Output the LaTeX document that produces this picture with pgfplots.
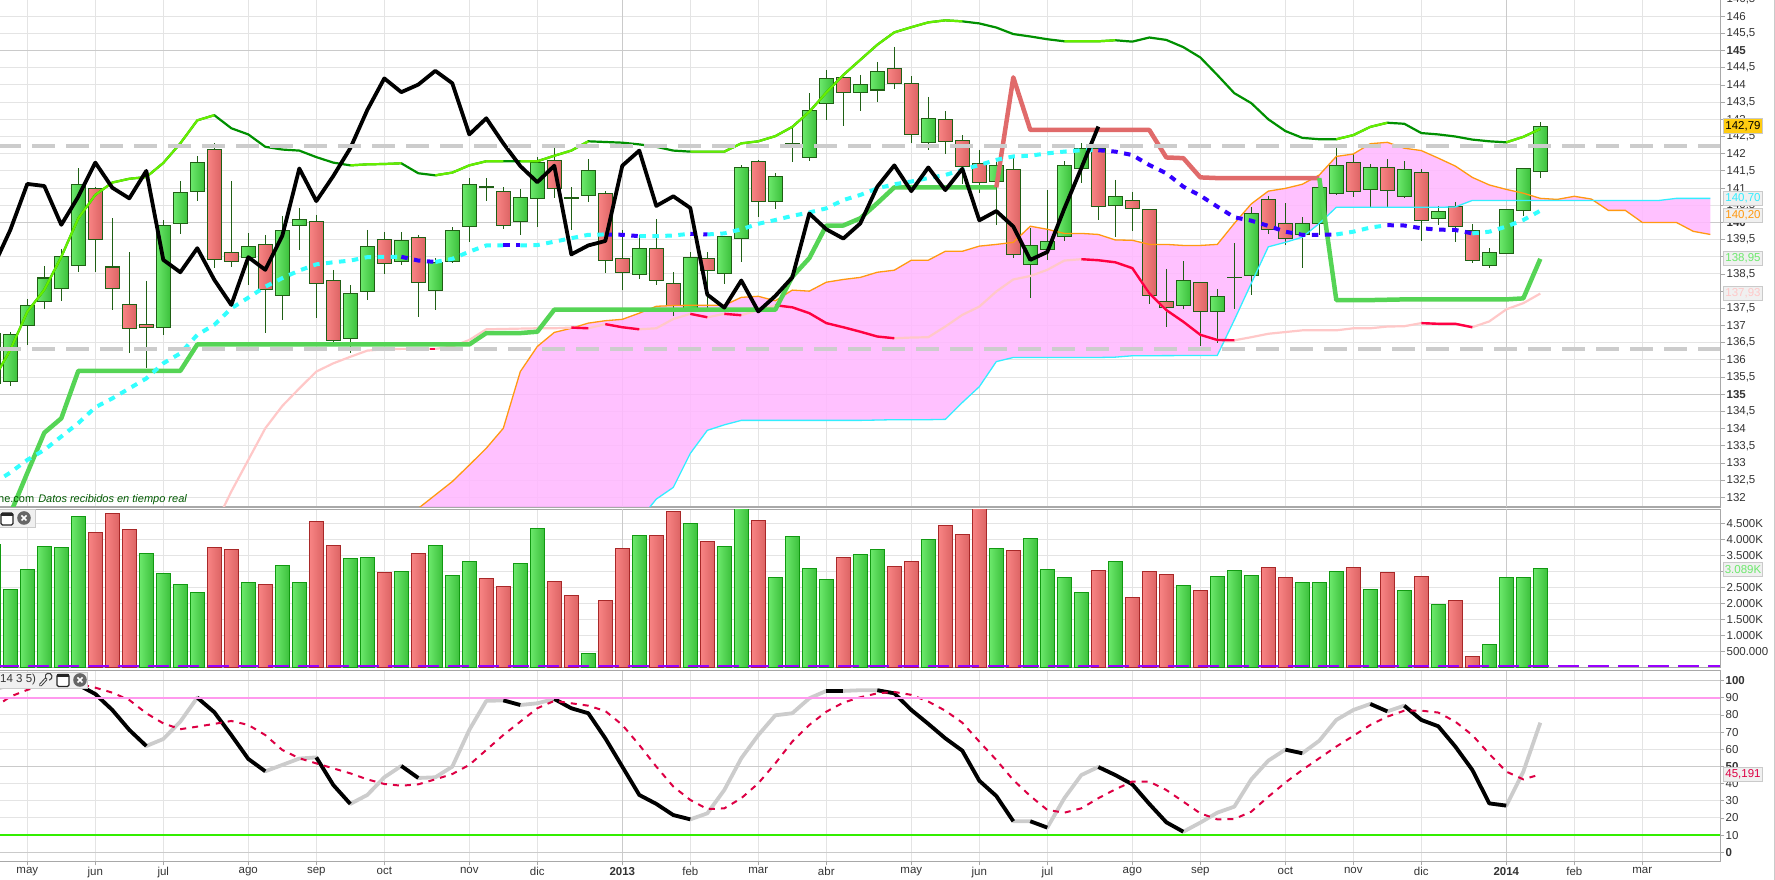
\documentclass[border=0pt]{standalone}
\usepackage{fontspec}
\setmainfont{Liberation Sans}
\usepackage{pgfplots}
\usepackage{pgfplotstable}
\pgfplotsset{compat=1.18}
\definecolor{gl}{HTML}{6CE96C}\definecolor{gd}{HTML}{3CC03C}
\definecolor{rl}{HTML}{F88484}\definecolor{rd}{HTML}{DC6464}
\definecolor{cedge}{HTML}{1F5F14}
\definecolor{vgb}{HTML}{119911}\definecolor{vrb}{HTML}{A82828}
\definecolor{grid}{HTML}{E4E4E4}\definecolor{gridd}{HTML}{CACACA}
\definecolor{frame}{HTML}{A8A8A8}\definecolor{lbl}{HTML}{333333}
\definecolor{cloud}{HTML}{FFB8FF}
\definecolor{kg}{HTML}{55D455}\definecolor{kr}{HTML}{E06A6A}
\definecolor{bright}{HTML}{66EE00}\definecolor{dark}{HTML}{009000}
\definecolor{cy}{HTML}{33FFFF}\definecolor{bl}{HTML}{3300FF}
\definecolor{orange2}{HTML}{FF9911}\definecolor{cy2}{HTML}{33EEFF}
\definecolor{pk}{HTML}{FFC8C8}\definecolor{red2}{HTML}{FF0044}
\definecolor{dashg}{HTML}{CCCCCC}\definecolor{sig}{HTML}{DD0044}
\definecolor{purp}{HTML}{9900FF}
\definecolor{lev90}{HTML}{FF99EE}\definecolor{lev10}{HTML}{33EE00}
\definecolor{tagy}{HTML}{FFCC11}\definecolor{tagb}{HTML}{F0F0F0}

\newcommand\cG[5]{%
 \addplot[cedge,line width=1pt] coordinates {(#1,#4)(#1,#5)};
 \pgfmathsetmacro\xa{#1-0.41}\pgfmathsetmacro\xb{#1+0.41}
 \addplot[draw=cedge,line width=1.2pt,left color=gl,right color=gd] coordinates {(\xa,#2)(\xb,#2)(\xb,#3)(\xa,#3)} --cycle;}
\newcommand\cR[5]{%
 \addplot[cedge,line width=1pt] coordinates {(#1,#4)(#1,#5)};
 \pgfmathsetmacro\xa{#1-0.41}\pgfmathsetmacro\xb{#1+0.41}
 \addplot[draw=cedge,line width=1.2pt,left color=rl,right color=rd] coordinates {(\xa,#2)(\xb,#2)(\xb,#3)(\xa,#3)} --cycle;}

\pgfplotstableread{
x y
-1 135.42
0 136.29
1 137.40
2 138.04
3 139.00
4 140.12
5 140.80
6 141.16
7 141.27
8 141.32
9 141.73
10 142.30
11 142.97
12 143.12
13 142.74
14 142.56
15 142.20
16 142.12
17 142.09
18 141.90
19 141.74
20 141.66
21 141.69
22 141.70
23 141.72
24 141.43
25 141.37
26 141.45
27 141.66
28 141.78
29 141.78
30 141.78
31 141.78
32 141.94
33 142.09
34 142.36
35 142.34
36 142.32
37 142.27
38 142.20
39 142.09
40 142.06
41 142.06
42 142.06
43 142.30
44 142.36
45 142.51
46 142.78
47 143.22
48 143.78
49 144.29
50 144.73
51 145.17
52 145.53
53 145.68
54 145.82
55 145.88
56 145.85
57 145.79
58 145.67
59 145.48
60 145.41
61 145.33
62 145.27
63 145.27
64 145.27
65 145.30
66 145.26
67 145.38
68 145.31
69 145.10
70 144.80
71 144.29
72 143.76
73 143.47
74 143.00
75 142.66
76 142.46
77 142.42
78 142.42
79 142.54
80 142.78
81 142.90
82 142.87
83 142.60
84 142.56
85 142.50
86 142.41
87 142.36
88 142.33
89 142.49
90 142.72
}\tabUp
\pgfplotstableread{
x y
0 131.52
1 132.71
2 133.88
3 134.30
4 135.68
10 135.68
11 136.45
27 136.45
28 136.78
30 136.78
31 136.82
32 137.46
45 137.46
46 138.42
47 138.96
48 139.91
49 139.91
50 140.12
51 140.56
52 141.02
58 141.02
59 144.22
60 142.69
67 142.69
68 141.89
69 141.87
70 141.31
71 141.29
77 141.29
78 137.74
80 137.74
81 137.75
82 137.76
88 137.76
89 137.79
90 138.94
}\tabKij
\pgfplotstableread{
x y
-1 132.41
0 132.72
1 133.09
2 133.38
3 133.77
4 134.16
5 134.62
6 134.88
7 135.17
8 135.46
9 135.90
10 136.19
11 136.73
12 137.02
13 137.50
14 137.81
15 138.13
16 138.38
17 138.60
18 138.78
19 138.84
20 138.89
21 138.99
22 139.00
23 139.00
24 138.89
25 138.85
26 138.94
27 139.15
28 139.33
29 139.33
30 139.33
31 139.34
32 139.44
33 139.54
34 139.64
35 139.65
36 139.64
37 139.60
38 139.60
39 139.62
40 139.67
41 139.65
42 139.68
43 139.80
44 139.96
45 140.07
46 140.19
47 140.29
48 140.41
49 140.65
50 140.80
51 140.99
52 141.11
53 141.19
54 141.29
55 141.38
56 141.53
57 141.67
58 141.82
59 141.92
60 141.94
61 142.01
62 142.06
63 142.10
64 142.10
65 142.06
66 141.96
67 141.67
68 141.43
69 141.04
70 140.78
71 140.46
72 140.15
73 140.05
74 139.90
75 139.73
76 139.64
77 139.64
78 139.65
79 139.73
80 139.85
81 139.92
82 139.91
83 139.83
84 139.79
85 139.78
86 139.68
87 139.73
88 139.88
89 140.07
90 140.34
}\tabTen
\pgfplotstableread{
x y
-1 138.71
0 139.78
1 141.12
2 141.06
3 139.93
4 140.75
5 141.74
6 141.01
7 140.70
8 141.50
9 138.91
10 138.55
11 139.25
12 138.33
13 137.60
14 138.99
15 138.62
16 139.61
17 141.57
18 140.62
19 141.35
20 142.16
21 143.27
22 144.19
23 143.79
24 144.01
25 144.41
26 144.05
27 142.56
28 143.03
29 142.30
30 141.64
31 141.17
32 141.65
33 139.07
34 139.33
35 139.46
36 141.65
37 142.09
38 140.48
39 140.76
40 140.42
41 137.90
42 137.52
43 138.31
44 137.41
45 137.86
46 138.40
47 140.26
48 139.80
49 139.53
50 139.97
51 141.04
52 141.66
53 140.91
54 141.60
55 140.94
56 141.56
57 140.06
58 140.33
59 139.88
60 138.91
61 139.14
62 140.40
63 141.58
64 142.79
}\tabChi
\pgfplotstableread{
x y
12 131.15
13 132.17
14 133.09
15 134.01
16 134.66
17 135.17
18 135.66
19 135.90
20 136.09
21 136.27
22 136.31
23 136.32
25 136.32
26 136.39
27 136.58
28 136.89
29 136.90
30 136.91
31 136.92
32 136.92
33 136.94
34 136.92
35 137.04
36 136.95
37 136.89
38 136.92
39 137.19
40 137.34
41 137.24
42 137.34
43 137.30
44 137.45
45 137.59
46 137.53
47 137.36
48 137.07
49 136.95
50 136.82
51 136.68
52 136.63
53 136.65
54 136.66
55 136.97
56 137.31
57 137.55
58 137.99
59 138.34
60 138.44
61 138.62
62 138.89
63 138.93
64 138.90
65 138.84
66 138.67
67 137.94
68 137.45
69 137.11
70 136.73
71 136.58
72 136.57
73 136.66
74 136.76
75 136.81
76 136.86
78 136.86
79 136.92
80 136.92
81 136.97
82 136.98
83 137.07
84 137.05
85 137.05
86 136.95
87 137.12
88 137.47
89 137.65
90 137.93
}\tabPk
\pgfplotstableread{
x y
24 131.68
25 132.07
26 132.46
27 132.94
28 133.43
29 134.01
30 135.66
31 136.39
32 136.80
33 136.92
34 137.07
35 137.14
36 137.18
37 137.36
38 137.56
39 137.58
40 137.59
42 137.59
43 137.82
44 137.85
45 137.72
46 138.03
47 138.00
48 138.26
49 138.34
50 138.40
51 138.55
52 138.61
53 138.90
54 138.90
55 139.16
56 139.16
57 139.31
58 139.36
59 139.42
60 139.89
61 139.80
62 139.68
63 139.68
64 139.65
65 139.49
66 139.48
67 139.36
68 139.36
69 139.33
70 139.33
71 139.36
72 139.97
73 140.54
74 140.91
75 140.99
76 141.11
77 141.38
78 141.92
79 141.99
80 142.29
81 142.33
82 142.16
83 142.09
84 141.87
85 141.64
86 141.31
87 141.09
88 140.96
89 140.85
90 140.70
91 140.67
92 140.76
93 140.68
94 140.35
95 140.35
96 140.00
98 140.00
99 139.74
100 139.65
}\tabOr
\pgfplotstableread{
x y
24 130.50
37 131.34
38 131.95
39 132.29
40 133.28
41 133.95
42 134.11
43 134.24
50 134.24
51 134.25
52 134.26
54 134.26
55 134.27
56 134.76
57 135.22
58 135.95
59 136.07
64 136.07
65 136.08
66 136.12
71 136.13
72 137.16
73 138.23
74 139.29
75 139.42
76 139.57
77 139.97
78 140.44
84 140.44
85 140.45
86 140.64
97 140.64
98 140.70
100 140.70
}\tabCy
\pgfplotstableread{
x y
-1 94.6
0 97.5
1 98.8
2 99.4
3 99.4
4 97.5
5 92.2
6 82.9
7 71.3
8 61.9
9 66.0
10 76.1
11 90.1
12 81.6
13 68.3
14 54.4
15 47.2
16 50.9
17 54.6
18 55.3
19 39.2
20 28.2
21 33.4
22 43.7
23 50.3
24 43.3
25 43.7
26 49.9
27 71.3
28 88.2
29 88.5
30 85.8
31 86.8
32 89.3
33 83.9
34 81.0
35 66.4
36 49.9
37 33.4
38 28.2
39 21.7
40 19.2
41 22.7
42 36.3
43 54.8
44 68.3
45 79.8
46 81.0
47 89.7
48 94.0
49 94.0
50 94.4
51 94.4
52 92.6
53 82.9
54 74.8
55 66.4
56 59.2
57 41.7
58 32.8
59 18.1
60 18.1
61 14.4
62 31.5
63 45.0
64 49.7
65 45.0
66 39.6
67 28.2
68 17.5
69 12.0
70 17.3
71 23.1
72 26.6
73 42.5
74 53.4
75 59.8
76 57.7
77 65.0
78 77.1
79 82.9
80 86.4
81 82.1
82 85.4
83 77.1
84 73.4
85 61.6
86 48.0
87 28.5
88 27.2
89 47.0
90 75.5
}\tabK
\pgfplotstableread{
x y
-1 83.9
0 90.7
1 94.6
2 97.5
3 99.4
4 98.1
5 95.9
6 93.0
7 88.7
8 81.0
9 75.1
10 71.7
11 73.2
12 74.8
13 76.5
14 74.2
15 68.3
16 59.6
17 54.8
18 51.8
19 48.9
20 46.0
21 42.5
22 39.8
23 38.8
24 39.6
25 42.5
26 45.6
27 50.9
28 59.6
29 68.3
30 76.1
31 83.9
32 88.2
33 86.8
34 85.4
35 82.3
36 74.2
37 62.5
38 49.9
39 38.3
40 30.5
41 25.2
42 25.6
43 31.5
44 40.2
45 51.8
46 64.5
47 74.2
48 81.9
49 87.2
50 90.3
51 92.6
52 93.4
53 91.7
54 87.8
55 82.5
56 75.5
57 64.5
58 53.8
59 42.1
60 32.8
61 24.7
62 23.1
63 25.6
64 31.5
65 36.7
66 41.2
67 41.2
68 36.3
69 29.5
70 22.7
71 19.2
72 19.4
73 23.7
74 32.4
75 40.6
76 48.0
77 54.8
78 61.6
79 67.8
80 74.2
81 79.0
82 82.5
83 82.5
84 81.4
85 76.1
86 68.3
87 57.3
88 47.0
89 42.5
90 45.4
}\tabD

\pgfplotsset{pane/.style={
  scale only axis, width=1722.4pt, xmin=-0.7235, xmax=100.594,
  xtick={1,5,9,14,18,22,27,31,40,44,48,53,57,61,66,70,75,79,83,92,96},
  extra x ticks={36,88},
  extra x tick style={grid style={draw=gridd,line width=1pt}},
  grid=major, grid style={draw=grid,line width=1pt},
  axis line style={draw=frame,line width=1.3pt},
  ytick pos=right, yticklabel pos=right,
  tick align=outside, major tick length=5pt,
  y tick style={draw=frame,line width=.8pt},
  yticklabel style={anchor=west,inner sep=1pt,font=\fontsize{11.5}{13}\selectfont,text=lbl},
  xticklabels={}, extra x tick labels={},
  x tick style={draw=none},
  }}

\begin{document}
\begin{tikzpicture}[x=1pt,y=1pt]
\path[use as bounding box] (0,0) rectangle (1775,880);

% ---------- price pane
\begin{axis}[pane, at={(-2pt,373pt)}, anchor=south west, height=509pt,
  ymin=131.72, ymax=146.53,
  ytick={132,132.5,133,133.5,134,134.5,135.5,136,136.5,137,137.5,138,138.5,139,139.5,140.5,141,141.5,142,142.5,143,143.5,144,144.5,145.5,146,146.5},
  yticklabels={132,{132,5},133,{133,5},134,{134,5},{135,5},136,{136,5},137,{137,5},138,{138,5},139,{139,5},{140,5},141,{141,5},142,{142,5},143,{143,5},144,{144,5},{145,5},146,{146,5}},
  extra y ticks={135,140,145},
  extra y tick labels={\textbf{135},\textbf{140},\textbf{145}},
  extra y tick style={grid style={draw=gridd,line width=1pt}},
]
% cloud polygon: upper edge, then lower edge back
\addplot[fill=cloud,fill opacity=.88,draw=none] coordinates {
(24,131.68)(25,132.07)(26,132.46)(27,132.94)(28,133.43)(29,134.01)(30,135.66)(31,136.39)(32,136.80)(33,136.92)(34,137.07)(35,137.14)(36,137.18)(37,137.36)(38,137.56)(39,137.58)(40,137.59)(42,137.59)(43,137.82)(44,137.85)(45,137.72)(46,138.03)(47,138.00)(48,138.26)(49,138.34)(50,138.40)(51,138.55)(52,138.61)(53,138.90)(54,138.90)(55,139.16)(56,139.16)(57,139.31)(58,139.36)(59,139.42)(60,139.89)(61,139.80)(62,139.68)(63,139.68)(64,139.65)(65,139.49)(66,139.48)(67,139.36)(68,139.36)(69,139.33)(70,139.33)(71,139.36)(72,139.97)(73,140.54)(74,140.91)(75,140.99)(76,141.11)(77,141.38)(78,141.92)(79,141.99)(80,142.29)(81,142.33)(82,142.16)(83,142.09)(84,141.87)(85,141.64)(86,141.31)(87,141.09)(88,140.96)(89,140.85)(90,140.70)(91,140.67)(92,140.76)(93,140.68)(94,140.35)(95,140.35)(96,140.00)(98,140.00)(99,139.74)(100,139.65)
(100,140.70)(98,140.70)(97,140.64)(86,140.64)(85,140.45)(84,140.44)(78,140.44)(77,139.97)(76,139.57)(75,139.42)(74,139.29)(73,138.23)(72,137.16)(71,136.13)(66,136.12)(65,136.08)(64,136.07)(59,136.07)(58,135.95)(57,135.22)(56,134.76)(55,134.27)(54,134.26)(52,134.26)(51,134.25)(50,134.24)(43,134.24)(42,134.11)(41,133.95)(40,133.28)(39,132.29)(38,131.95)(37,131.34)(24,130.50)
} --cycle;

\cG{-1}{136.77}{135.32}{136.87}{135.27}
\cG{0}{136.74}{135.38}{136.80}{135.24}
\cG{1}{137.59}{137.00}{137.77}{136.43}
\cG{2}{138.38}{137.70}{138.73}{137.48}
\cG{3}{139.01}{138.07}{139.23}{137.70}
\cG{4}{141.11}{138.74}{141.58}{138.56}
\cR{5}{140.99}{139.51}{141.02}{138.56}
\cR{6}{138.70}{138.07}{140.12}{137.45}
\cR{7}{137.62}{136.91}{139.13}{136.21}
\cR{8}{137.04}{136.94}{138.30}{135.76}
\cG{9}{139.91}{136.94}{140.07}{136.71}
\cG{10}{140.88}{139.97}{141.20}{139.67}
\cG{11}{141.75}{140.90}{141.93}{140.63}
\cR{12}{142.13}{138.93}{142.30}{138.66}
\cR{13}{139.13}{138.86}{141.20}{138.71}
\cG{14}{139.31}{138.99}{139.68}{138.18}
\cR{15}{139.36}{138.05}{139.64}{136.79}
\cG{16}{139.77}{137.87}{140.19}{137.16}
\cG{17}{140.09}{139.91}{140.41}{139.20}
\cR{18}{140.03}{138.22}{140.22}{137.23}
\cR{19}{138.32}{136.56}{138.62}{136.39}
\cG{20}{137.94}{136.62}{138.17}{136.21}
\cG{21}{139.31}{137.99}{139.78}{137.74}
\cR{22}{139.51}{138.80}{139.72}{138.50}
\cG{23}{139.48}{138.86}{139.72}{138.76}
\cR{24}{139.57}{138.25}{139.64}{137.26}
\cG{25}{138.84}{138.01}{138.96}{137.45}
\cG{26}{139.77}{138.86}{139.86}{138.81}
\cG{27}{141.11}{139.88}{141.29}{139.43}
\cG{28}{141.03}{141.02}{141.29}{140.63}
\cR{29}{140.91}{139.91}{141.02}{139.81}
\cG{30}{140.73}{140.02}{140.96}{139.64}
\cG{31}{141.75}{140.69}{141.89}{139.88}
\cR{32}{141.81}{140.98}{142.16}{140.70}
\cG{33}{140.72}{140.71}{141.02}{139.78}
\cG{34}{141.52}{140.78}{141.84}{140.60}
\cR{35}{140.85}{138.90}{140.91}{138.52}
\cR{36}{138.96}{138.54}{139.78}{138.03}
\cG{37}{139.25}{138.48}{139.64}{138.36}
\cR{38}{139.25}{138.31}{140.09}{138.18}
\cR{39}{138.23}{137.58}{138.55}{137.28}
\cG{40}{138.99}{137.50}{139.13}{137.50}
\cR{41}{138.96}{138.60}{139.13}{137.50}
\cG{42}{139.60}{138.51}{139.60}{138.21}
\cG{43}{141.60}{139.53}{141.67}{138.86}
\cR{44}{141.78}{140.61}{141.82}{140.16}
\cG{45}{141.34}{140.61}{141.44}{140.39}
\cG{46}{142.30}{142.29}{142.77}{141.76}
\cG{47}{143.26}{141.89}{143.76}{141.80}
\cG{48}{144.19}{143.47}{144.44}{142.98}
\cR{49}{144.22}{143.79}{144.22}{142.81}
\cG{50}{144.02}{143.79}{144.29}{143.24}
\cG{51}{144.40}{143.85}{144.67}{143.51}
\cR{52}{144.49}{144.05}{145.11}{143.88}
\cR{53}{144.05}{142.56}{144.26}{142.30}
\cG{54}{143.03}{142.32}{143.65}{142.11}
\cR{55}{143.00}{142.36}{143.23}{141.99}
\cR{56}{142.39}{141.63}{142.54}{141.12}
\cR{57}{141.72}{141.17}{142.11}{140.87}
\cG{58}{141.66}{141.20}{141.76}{139.93}
\cR{59}{141.55}{139.06}{141.93}{138.96}
\cG{60}{139.33}{138.78}{139.84}{137.81}
\cG{61}{139.45}{139.21}{140.93}{138.91}
\cG{62}{141.66}{139.60}{141.78}{139.46}
\cG{63}{142.14}{141.57}{142.30}{141.14}
\cR{64}{142.16}{140.47}{142.16}{140.07}
\cG{65}{140.76}{140.49}{141.24}{139.58}
\cR{66}{140.64}{140.40}{140.89}{139.75}
\cR{67}{140.38}{137.88}{140.38}{137.63}
\cR{68}{137.71}{137.53}{138.65}{136.97}
\cG{69}{138.32}{137.58}{138.87}{137.48}
\cR{70}{138.26}{137.40}{138.26}{136.39}
\cG{71}{137.85}{137.40}{138.05}{136.48}
\cG{72}{138.40}{138.39}{139.39}{137.49}
\cG{73}{140.27}{138.45}{140.44}{137.89}
\cR{74}{140.67}{139.80}{140.77}{139.66}
\cR{75}{139.97}{139.53}{140.56}{139.34}
\cG{76}{139.97}{139.64}{140.15}{138.68}
\cG{77}{141.02}{139.97}{141.29}{139.64}
\cG{78}{141.66}{140.85}{142.16}{140.80}
\cR{79}{141.75}{140.90}{141.98}{140.75}
\cG{80}{141.60}{140.96}{141.70}{140.45}
\cR{81}{141.60}{140.93}{141.84}{140.45}
\cG{82}{141.55}{140.76}{141.78}{140.71}
\cR{83}{141.46}{140.06}{141.55}{139.47}
\cG{84}{140.32}{140.12}{140.47}{139.93}
\cR{85}{140.47}{139.89}{140.60}{139.43}
\cR{86}{139.77}{138.90}{139.95}{138.81}
\cG{87}{139.13}{138.75}{139.25}{138.68}
\cG{88}{140.38}{139.09}{140.38}{139.09}
\cG{89}{141.57}{140.34}{141.57}{140.19}
\cG{90}{142.79}{141.49}{142.91}{141.30}

% cloud edges
\addplot[orange2,line width=1.3pt] table[x=x,y=y] {\tabOr};
\addplot[cy2,line width=1.3pt] table[x=x,y=y] {\tabCy};
% light pink / red line
\addplot[pk,line width=2.2pt,line join=round] table[x=x,y=y] {\tabPk};
\addplot[red2,line width=2.2pt] coordinates {(24.7,136.32)(25,136.32)};
\foreach \a/\b in {33/34,35/37,40/41,42/43,45/52,63/72,83/86}{
 \edef\tmp{\noexpand\addplot[red2,line width=2.4pt,line join=round,restrict x to domain=\a:\b] table[x=x,y=y] {\noexpand\tabPk};}\tmp}
% upper band
\addplot[dark,line width=2.2pt,line join=round] table[x=x,y=y] {\tabUp};
\foreach \a/\b in {-1/12,20/23,25/29,30/34,40/56,62/65,78/81,88/90}{
 \edef\tmp{\noexpand\addplot[bright,line width=2.2pt,line join=round,restrict x to domain=\a:\b] table[x=x,y=y] {\noexpand\tabUp};}\tmp}
% kijun
\addplot[kg,line width=4.5pt,line join=round,restrict x to domain=0:58] table[x=x,y=y] {\tabKij};
\addplot[kr,line width=4.5pt,line join=round,restrict x to domain=58:77] table[x=x,y=y] {\tabKij};
\addplot[kg,line width=4.5pt,line join=round,restrict x to domain=77:90] table[x=x,y=y] {\tabKij};
% tenkan (dashed), each stretch in its own colour
\foreach \a/\b in {-1/23,25/29,30/35,37/40,41/64,78/81,86/90}{
 \edef\tmp{\noexpand\addplot[cy,line width=4pt,dash pattern=on 6.5pt off 6.5pt,restrict x to domain=\a:\b] table[x=x,y=y] {\noexpand\tabTen};}\tmp}
\foreach \a/\b in {23/25,29/30,35/37,40/41,64/78,81/86}{
 \edef\tmp{\noexpand\addplot[bl,line width=4pt,dash pattern=on 6.5pt off 6.5pt,restrict x to domain=\a:\b] table[x=x,y=y] {\noexpand\tabTen};}\tmp}
% chikou
\addplot[black,line width=3.8pt,line join=round] table[x=x,y=y] {\tabChi};
% horizontal levels
\addplot[dashg,line width=4pt,dash pattern=on 23pt off 11pt] coordinates {(-0.7235,142.23)(100.594,142.23)};
\addplot[dashg,line width=4pt,dash pattern=on 23pt off 11pt] coordinates {(-0.7235,136.32)(100.594,136.32)};
\end{axis}

% ---------- volume pane
\begin{axis}[pane, at={(-2pt,212.33pt)}, anchor=south west, height=158.33pt,
  ymin=0, ymax=4948,
  ytick={500,1000,1500,2000,2500,3000,3500,4000,4500},
  yticklabels={500.000,1.000K,1.500K,2.000K,2.500K,,3.500K,4.000K,4.500K},
]
\foreach \i/\v in {-1/3833,0/2448,1/3073,2/3792,3/3760,4/4729,8/3573,9/2948,10/2604,11/2354,14/2667,16/3198,17/2667,20/3417,21/3448,23/3010,25/3823,26/2885,27/3323,30/3260,31/4354,34/448,37/4135,40/4510,42/3792,43/5100,45/2823,46/4104,47/3104,48/2760,50/3542,51/3698,54/4010,58/3729,60/4042,61/3073,62/2823,63/2354,65/3323,69/2573,71/2854,72/3042,73/2885,76/2667,77/2667,78/3010,80/2448,82/2417,84/1979,87/729,88/2823,89/2823,90/3089}{
 \edef\tmp{\noexpand\addplot[ybar,bar width=14pt,bar shift=0pt,draw=vgb,line width=1.2pt,left color=gl,right color=gd] coordinates {(\i,\v)};}\tmp}
\foreach \i/\v in {5/4229,6/4823,7/4323,12/3760,13/3698,15/2604,18/4573,19/3823,22/2979,24/3573,28/2792,29/2542,32/2698,33/2260,35/2104,36/3729,38/4135,39/4885,41/3948,44/4604,49/3448,52/3167,53/3323,55/4448,56/4167,57/5100,59/3667,64/3042,66/2198,67/3010,68/2917,70/2417,74/3135,75/2823,79/3135,81/2979,83/2854,85/2104,86/354}{
 \edef\tmp{\noexpand\addplot[ybar,bar width=14pt,bar shift=0pt,draw=vrb,line width=1.2pt,left color=rl,right color=rd] coordinates {(\i,\v)};}\tmp}
\addplot[purp,line width=1.4pt,dash pattern=on 21pt off 9pt] coordinates {(-0.7235,47)(100.594,47)};
\end{axis}

% ---------- stochastic pane
\begin{axis}[pane, at={(-2pt,18.67pt)}, anchor=south west, height=190.67pt,
  ymin=-5.24, ymax=105.8,
  ytick={10,20,30,40,60,70,80,90},
  yticklabels={10,20,30,40,60,70,80,90},
  extra y ticks={0,50,100},
  extra y tick labels={\textbf{0},\textbf{50},\textbf{100}},
  extra y tick style={grid style={draw=gridd,line width=1pt}},
  xticklabels={may,jun,jul,ago,sep,oct,nov,dic,feb,mar,abr,may,jun,jul,ago,sep,oct,nov,dic,feb,mar},
  extra x tick labels={\textbf{2013},\textbf{2014}},
  xtick pos=bottom,
  x tick style={draw=frame,line width=.8pt},
  xticklabel style={font=\fontsize{11.5}{13}\selectfont,text=lbl,inner sep=2pt},
  major tick length=4pt,
]
\addplot[dashg,line width=3.8pt,line join=round] table[x=x,y=y] {\tabK};
\foreach \a/\b in {4/8,11/15,18/20,23/24,29/30,32/40,48/49,51/59,60/61,64/69,75/76,80/81,82/88}{
 \edef\tmp{\noexpand\addplot[black,line width=3.8pt,line join=round,restrict x to domain=\a:\b] table[x=x,y=y] {\noexpand\tabK};}\tmp}
\addplot[sig,line width=2pt,dash pattern=on 6pt off 6pt] table[x=x,y=y] {\tabD};
\addplot[lev90,line width=2.2pt] coordinates {(-0.7235,90)(100.594,90)};
\addplot[lev10,line width=2.2pt] coordinates {(-0.7235,10)(100.594,10)};
\end{axis}

% ---------- overlays: text and tags (positions in page pixels, y from the top)
\node[anchor=west,inner sep=0pt,text=green!35!black,font=\fontsize{11}{13}\selectfont] at (-2,880-500) {ne.com\hspace{4pt}\textit{Datos recibidos en tiempo real}};
\newcommand\tagbox[5]{\node[draw=#3,fill=#2,text=#4,line width=1pt,inner sep=1.5pt,minimum width=34pt,minimum height=14.5pt,font=\fontsize{11.5}{13}\selectfont] at (1743,880-#1) {\vphantom{0}#5};}
\tagbox{126}{tagy}{gridd}{black}{142,79}
\tagbox{198.3}{tagb}{gridd}{cy2}{140,70}
\tagbox{215.7}{tagb}{gridd}{orange2}{140,20}
\tagbox{258.3}{tagb}{gridd}{gl}{138,95}
\tagbox{293.3}{tagb}{gridd}{pk}{137,93}
\tagbox{569.3}{tagb}{gridd}{gl}{3.089K}
\tagbox{774.3}{tagb}{gridd}{sig}{45,191}
\draw[gridd,line width=1pt] (1774.5,0) -- (1774.5,880);

% pane control boxes
\fill[tagb,draw=frame!60!white] (-2,880-509) rectangle (35,880-527);
\draw[black!85,fill=white,line width=1.3pt,rounded corners=1.5pt] (1,880-513) rectangle (13,880-525);
\fill[black!85] (1,880-513) rectangle (13,880-516);
\fill[black!60] (24,880-518) circle (6.8);
\draw[white,line width=1.6pt] (21.5,880-515.5) -- (26.5,880-520.5) (21.5,880-520.5) -- (26.5,880-515.5);
\fill[tagb,draw=frame!60!white] (-2,880-672) rectangle (87,880-688);
\node[anchor=west,inner sep=0pt,text=lbl,font=\fontsize{11.5}{13}\selectfont] at (0,880-680) {14 3 5)};
\draw[black!75,line width=3.2pt,line cap=round] (40.5,880-685) -- (46,880-679);
\draw[tagb,line width=1.2pt,line cap=round] (40.5,880-685) -- (46,880-679);
\draw[black!75,line width=1.1pt] (45.5,880-675) arc (150:-80:3.5) ;
\draw[black!75,line width=1.1pt] (45.5,880-675) -- (45.5,880-679);
\draw[black!85,fill=white,line width=1.3pt,rounded corners=1.5pt] (57,880-674.5) rectangle (69,880-686.5);
\fill[black!85] (57,880-674.5) rectangle (69,880-677.5);
\fill[black!60] (80,880-680) circle (6.8);
\draw[white,line width=1.6pt] (77.5,880-677.5) -- (82.5,880-682.5) (77.5,880-682.5) -- (82.5,880-677.5);
\end{tikzpicture}
\end{document}
